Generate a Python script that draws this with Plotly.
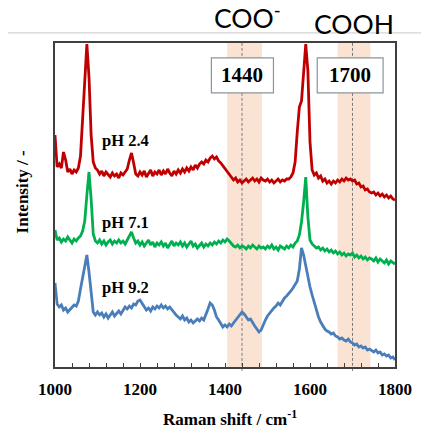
import plotly.graph_objects as go

# Raman shift axis (cm-1), 5 cm-1 steps
wavenumber = list(range(1000, 1805, 5))

# Intensity (arbitrary units, offset stacked)
ph24 = [232, 200, 203, 199, 215, 207, 195, 198, 193, 197,
        195, 199, 211, 246, 276, 323, 290, 232, 205, 199,
        197, 193, 196, 191, 195, 192, 190, 194, 191, 193,
        189, 194, 192, 195, 198, 207, 214, 204, 193, 191,
        195, 192, 196, 190, 194, 197, 191, 195, 193, 197,
        192, 196, 193, 198, 194, 191, 196, 193, 197, 194,
        198, 195, 199, 196, 200, 197, 202, 199, 203, 205,
        203, 207, 205, 209, 211, 208, 210, 206, 204, 201,
        198, 196, 193, 190, 187, 189, 185, 187, 184, 186,
        188, 185, 187, 189, 186, 188, 185, 189, 187, 186,
        188, 185, 187, 184, 186, 188, 185, 187, 186, 188,
        188, 190, 194, 205, 235, 260, 266, 292, 323, 296,
        225, 197, 192, 194, 189, 191, 186, 188, 184, 186,
        183, 186, 184, 187, 185, 188, 186, 189, 187, 188,
        186, 187, 183, 184, 180, 181, 177, 178, 175, 174,
        175, 172, 174, 171, 173, 170, 172, 169, 171, 168,
        167]

ph71 = [137, 127, 129, 125, 128, 126, 130, 127, 124, 128,
        126, 129, 131, 136, 146, 172, 195, 168, 133, 126,
        124, 127, 123, 126, 122, 125, 127, 123, 126, 124,
        127, 124, 126, 123, 127, 131, 135, 129, 124, 126,
        122, 125, 121, 124, 127, 122, 125, 120, 124, 122,
        125, 121, 124, 119, 123, 126, 121, 124, 122, 125,
        121, 124, 120, 123, 126, 121, 123, 119, 122, 124,
        120, 123, 121, 124, 122, 125, 123, 126, 124, 127,
        125, 128, 126, 123, 121, 120, 122, 119, 121, 120,
        118, 121, 119, 122, 120, 118, 121, 119, 120, 118,
        121, 119, 122, 118, 120, 117, 121, 119, 118, 121,
        119, 122, 120, 124, 126, 132, 145, 165, 190, 150,
        127, 123, 121, 119, 120, 117, 119, 116, 118, 115,
        117, 114, 116, 113, 115, 112, 114, 111, 113, 112,
        114, 110, 112, 109, 111, 108, 110, 107, 109, 108,
        106, 109, 105, 108, 106, 104, 107, 103, 106, 104,
        103]

ph92 = [84, 63, 60, 62, 57, 59, 55, 57, 60, 62,
        61, 66, 78, 90, 104, 112, 95, 72, 55, 52,
        55, 52, 54, 50, 53, 49, 52, 55, 51, 54,
        56, 53, 57, 60, 58, 61, 59, 63, 62, 66,
        67, 64, 61, 57, 59, 56, 60, 58, 61, 59,
        62, 59, 61, 58, 60, 57, 54, 52, 50, 48,
        51, 47, 49, 45, 47, 44, 46, 48, 46, 49,
        47, 52, 58, 64, 62, 57, 50, 47, 43, 40,
        42, 40, 43, 41, 44, 47, 50, 52, 55, 53,
        50, 47, 48, 44, 41, 38, 35, 37, 43, 47,
        51, 54, 56, 59, 61, 64, 62, 66, 69, 71,
        73, 76, 79, 82, 86, 98, 119, 112, 100, 90,
        80, 72, 64, 57, 50, 45, 41, 38, 36, 35,
        33, 34, 31, 30, 28, 29, 27, 26, 28, 25,
        24, 22, 23, 20, 21, 19, 20, 17, 18, 16,
        15, 17, 14, 15, 12, 13, 11, 12, 9, 10,
        7]

series_names = ["pH 2.4", "pH 7.1", "pH 9.2"]
series_colors = ["#C00000", "#00B050", "#4A7EBB"]
label_y = [227, 145, 80]

bands = [(1405, 1487), (1665, 1742)]
marker_lines = [1440, 1700]
box_labels = ["1440", "1700"]
box_x = [(1368, 1514), (1617, 1772)]
x_ticks = [1000, 1200, 1400, 1600, 1800]

SERIF = "Liberation Serif"

fig = go.Figure()
for name, ys, col in zip(series_names, [ph24, ph71, ph92], series_colors):
    fig.add_trace(go.Scatter(x=wavenumber, y=ys, mode="lines", name=name,
                             line=dict(color=col, width=2.8), showlegend=False))

shapes = []
for (a, b) in bands:
    shapes.append(dict(type="rect", xref="x", yref="paper", x0=a, x1=b, y0=0, y1=1,
                       fillcolor="#FBE3D4", line=dict(width=0), layer="below"))
for xv in marker_lines:
    shapes.append(dict(type="line", xref="x", yref="paper", x0=xv, x1=xv, y0=-0.012, y1=1,
                       line=dict(color="#7a7a7a", width=1, dash="3px,2px"), layer="below"))
for (a, b) in box_x:
    shapes.append(dict(type="rect", xref="x", yref="paper", x0=a, x1=b, y0=0.846, y1=0.954,
                       fillcolor="white", line=dict(color="#8a949e", width=1.2), layer="below"))
# thin gray separator line above the plot
shapes.append(dict(type="line", xref="paper", yref="paper", x0=-0.17, x1=1.11, y0=1.031, y1=1.031,
                   line=dict(color="#d4d4d4", width=1.2)))

annotations = []
for name, yv in zip(series_names, label_y):
    annotations.append(dict(x=1106, y=yv, xref="x", yref="y", text="<b>%s</b>" % name,
                            showarrow=False, xanchor="left", yanchor="middle",
                            font=dict(family=SERIF, size=16.5, color="black")))
for lab, (a, b) in zip(box_labels, box_x):
    annotations.append(dict(x=(a + b) / 2, y=0.9, xref="x", yref="paper", text="<b>%s</b>" % lab,
                            showarrow=False, xanchor="center", yanchor="middle",
                            font=dict(family=SERIF, size=21, color="black")))
annotations.append(dict(x=0.463, y=1.022, xref="paper", yref="paper", text="COO<sup>-</sup>",
                        showarrow=False, xanchor="left", yanchor="bottom",
                        font=dict(family="Lato", size=26.5, color="black")))
annotations.append(dict(x=0.755, y=1.004, xref="paper", yref="paper", text="COOH",
                        showarrow=False, xanchor="left", yanchor="bottom",
                        font=dict(family="Lato", size=26.5, color="black")))
annotations.append(dict(x=-0.096, y=0.54, xref="paper", yref="paper", text="<b>Intensity / -</b>",
                        showarrow=False, textangle=-90, xanchor="center", yanchor="middle",
                        font=dict(family=SERIF, size=17, color="black")))
annotations.append(dict(x=0.515, y=-0.157, xref="paper", yref="paper",
                        text="<b>Raman shift / cm<sup>-1</sup></b>",
                        showarrow=False, xanchor="center", yanchor="middle",
                        font=dict(family=SERIF, size=17, color="black")))

fig.update_layout(
    width=421, height=421,
    margin=dict(l=47, r=34, t=35, b=62),
    paper_bgcolor="white", plot_bgcolor="white",
    shapes=shapes, annotations=annotations,
    xaxis=dict(range=[1000, 1800], tickmode="array", tickvals=x_ticks,
               ticktext=["<b>%d</b>" % v for v in x_ticks],
               ticks="inside", ticklen=4, tickwidth=1, tickcolor="#404040",
               minor=dict(dtick=40, tick0=1000, ticks="inside", ticklen=4, tickcolor="#404040"),
               showgrid=False, zeroline=False, showline=True, mirror=True,
               linecolor="#404040", linewidth=1.5, ticklabelstandoff=6,
               tickfont=dict(family=SERIF, size=17, color="black")),
    yaxis=dict(range=[0, 324], showticklabels=False, ticks="", showgrid=False,
               zeroline=False, showline=True, mirror=True,
               linecolor="#404040", linewidth=1.5),
)

fig.write_html("out.html")
